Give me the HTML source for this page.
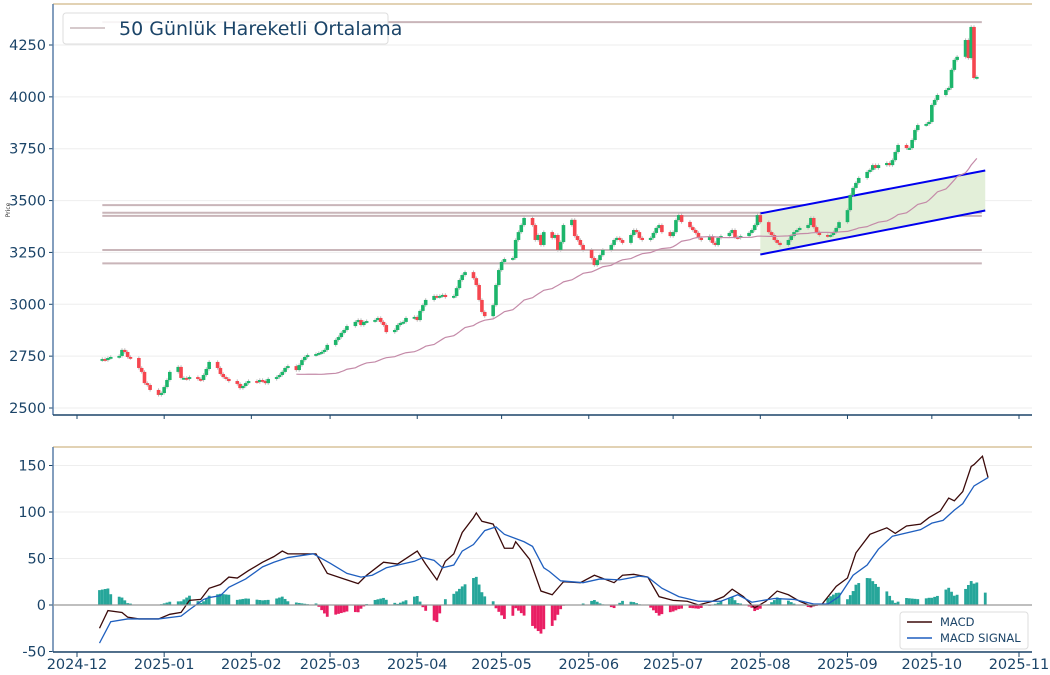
<!DOCTYPE html>
<html><head><meta charset="utf-8"><style>
body{margin:0;background:#fff;}
svg{display:block;font-family:"DejaVu Sans","Liberation Sans",sans-serif;}
</style></head><body>
<svg id="chart" width="1050" height="675" viewBox="0 0 1050 675" xmlns="http://www.w3.org/2000/svg">
<g id="grid"></g>
<g id="levels"></g>
<g id="channel"></g>
<g id="candles"></g>
<g id="ma"></g>
<g id="macd"></g>
<g id="axes"></g>
<g>
<rect x="63" y="13" width="325" height="31" rx="3" fill="#fff" fill-opacity="0.85" stroke="#ddd"/>
<line x1="70" y1="28" x2="105" y2="28" stroke="#c8b8bc" stroke-width="1.5"/>
<text x="119" y="35" font-size="19" fill="#1b4468">50 Günlük Hareketli Ortalama</text>
</g>
<text x="10" y="210" font-size="6" fill="#333" transform="rotate(-90 10 210)" text-anchor="middle">Price</text>
<g>
<rect x="900" y="612" width="128" height="37" rx="3" fill="#fff" stroke="#ddd"/>
<line x1="907" y1="622" x2="932" y2="622" stroke="#3b0a0a" stroke-width="1.5"/>
<text x="940" y="626" font-size="11.5" fill="#1b4468">MACD</text>
<line x1="907" y1="638" x2="932" y2="638" stroke="#1f5fbf" stroke-width="1.5"/>
<text x="940" y="642" font-size="11.5" fill="#1b4468">MACD SIGNAL</text>
</g>
</svg>
<script>
const closes = [
2736,2731,2741,2746,2751,2780,2770,2746,2741,2693,2674,2620,2611,2587,2563,2572,
2601,2635,2674,2698,2645,2645,2640,2649,2640,2635,2659,2688,2722,2693,2664,2649,2640,2630,2616,2596,2606,2620,2630,
2625,2635,2630,2620,2640,2649,2659,2674,2693,2702,2683,2707,2731,2746,2755,2760,2765,2770,2780,2804,
2828,2842,2862,2876,2895,2915,2924,2900,2915,2919,2924,2934,2915,2900,2866,2876,2900,2910,2915,2934,2939,
2924,2968,2996,3021,3040,3035,3040,3045,3035,3040,3078,3117,3141,3155,3126,3093,3021,2963,2943,2996,3093,3165,
3204,3218,3223,3310,3348,3382,3416,3382,3310,3334,3286,3348,3320,3334,3262,3300,3382,3407,3329,3310,3286,3262,
3223,3189,3213,3237,3262,3286,3310,3320,3310,3296,3334,3358,3348,3320,3310,3320,3344,3368,3382,3348,3329,
3348,3406,3430,3397,3372,3358,3344,3320,3310,3329,3296,3286,3320,3329,3344,3358,3324,3320,3329,3344,3358,3382,3430,
3396,3348,3334,3310,3296,3286,3310,3329,3348,3358,3368,3382,3416,3372,3348,3334,3329,3334,3348,3368,3396,
3454,3527,3561,3585,3609,3638,3648,3671,3657,3671,3681,3671,3695,3734,3768,3753,3753,3792,3840,3864,3869,3879,
3961,3985,4009,4033,4043,4130,4178,4193,4274,4187,4337,4091,4096];
const startDate = "2024-12-10";
// MACD: day offsets since 2024-12-01 and values
const macdDay = [8,11,16,18,22,29,33,37,40,44,47,51,54,57,61,66,70,73,75,80,85,89,95,100,103,109,114,121,124,128,131,134,137,141,142,144,148,152,155,156,161,165,169,173,179,184,191,194,198,203,207,212,217,221,226,230,233,237,241,245,249,253,257,261,265,270,274,277,282,288,291,295,300,303,307,310,312,315,318,319,322,324];
const macdVal = [-25,-6,-8,-13,-15,-15,-10,-8,5,6,18,22,30,29,37,46,52,58,55,55,55,34,28,23,32,46,44,58,44,27,47,55,78,94,99,90,87,61,61,68,49,15,11,25,24,32,24,32,33,30,9,5,4,0,4,9,17,9,-3,4,15,11,4,-1,1,20,29,56,76,83,77,85,87,94,101,115,112,122,149,151,160,137];
const sigDay = [8,12,18,29,37,40,45,47,51,54,60,66,70,75,84,90,96,101,105,110,120,123,127,130,134,137,141,145,149,152,159,162,166,168,172,180,186,193,200,203,208,214,221,229,235,240,248,255,262,267,271,276,281,285,290,300,304,308,312,315,319,324];
const sigVal = [-41,-18,-15,-15,-12,-5,6,8,10,19,28,41,46,51,55,45,34,30,32,40,47,51,48,40,43,58,65,80,84,76,68,63,40,36,26,24,28,27,31,30,18,9,4,4,11,3,7,6,1,1,9,32,43,60,74,81,88,91,102,109,128,137];
const priceTicks = [2500,2750,3000,3250,3500,3750,4000,4250];
const macdTicks = [-50,0,50,100,150];
const monthLabels = ["2024-12","2025-01","2025-02","2025-03","2025-04","2025-05","2025-06","2025-07","2025-08","2025-09","2025-10","2025-11"];
const levelPrices = [4360,3478,3441,3426,3262,3197];
const channelStart = "2025-08-01", channelEnd = "2025-10-20";
const channelUpper = [3438,3645];
const channelLower = [3240,3452];

const NS="http://www.w3.org/2000/svg";
function mk(tag,attrs,parent){const e=document.createElementNS(NS,tag);for(const k in attrs)e.setAttribute(k,attrs[k]);parent.appendChild(e);return e;}
const L=53,R=1032;
const d0=Date.UTC(2024,11,1), d1=Date.UTC(2025,10,1);
function xd(t){return 77+(t-d0)/(d1-d0)*(1019-77);}
function xday(d){return xd(d0+d*86400000);}
function yp(p){return 408-(p-2500)*(363/1750);}
function ym(v){return 605-v*0.93;}
function parse(s){const a=s.split("-").map(Number);return Date.UTC(a[0],a[1]-1,a[2]);}
const dates=[];let t=parse(startDate);
while(dates.length<closes.length){const wd=new Date(t).getUTCDay();if(wd!==0&&wd!==6)dates.push(t);t+=86400000;}
const grid=document.getElementById('grid'),axes=document.getElementById('axes');
priceTicks.forEach(p=>{
 const g=mk('line',{x1:L,x2:R,y1:yp(p),y2:yp(p),stroke:'#eee','stroke-width':1},grid);
 
 const tx=mk('text',{x:46,y:yp(p)+5,'font-size':14.5,fill:'#1b4468','text-anchor':'end'},axes);tx.textContent=p;
 
 mk('line',{x1:L-4,x2:L,y1:yp(p),y2:yp(p),stroke:'#1b4468'},axes);
});
macdTicks.forEach(v=>{
 if(v!==0)mk('line',{x1:L,x2:R,y1:ym(v),y2:ym(v),stroke:'#eee'},grid);
 const tx=mk('text',{x:46,y:ym(v)+5,'font-size':14.5,fill:'#1b4468','text-anchor':'end'},axes);tx.textContent=v;
 
 mk('line',{x1:L-4,x2:L,y1:ym(v),y2:ym(v),stroke:'#1b4468'},axes);
});
monthLabels.forEach(m=>{
 const x=xd(parse(m+"-01"));
 mk('line',{x1:x,x2:x,y1:652,y2:657,stroke:'#1b4468'},axes);
 mk('line',{x1:x,x2:x,y1:415,y2:419,stroke:'#1b4468'},axes);
 const tx=mk('text',{x:x,y:669,'font-size':14.5,fill:'#1b4468','text-anchor':'middle'},axes);tx.textContent=m;
 
});
mk('line',{x1:L,x2:R,y1:4,y2:4,stroke:'#d8c49c','stroke-width':1.5},axes);
mk('line',{x1:L,x2:L,y1:4,y2:415,stroke:'#5a7fa8','stroke-width':1.5},axes);
mk('line',{x1:L,x2:R,y1:415,y2:415,stroke:'#1b4468','stroke-width':1.5},axes);
mk('line',{x1:L,x2:R,y1:447,y2:447,stroke:'#d8c49c','stroke-width':1.5},axes);
mk('line',{x1:L,x2:L,y1:447,y2:652,stroke:'#5a7fa8','stroke-width':1.5},axes);
mk('line',{x1:L,x2:R,y1:652,y2:652,stroke:'#1b4468','stroke-width':1.5},axes);
mk('line',{x1:L,x2:R,y1:605,y2:605,stroke:'#999','stroke-width':1.2},axes);
const lv=document.getElementById('levels');
levelPrices.forEach(p=>{
 const l=mk('line',{x1:xd(dates[0]),x2:xd(dates[dates.length-1])+5,y1:yp(p),y2:yp(p),stroke:'#c9b5b9','stroke-width':2},lv);
 
});
const ch=document.getElementById('channel');
const cx0=xd(parse(channelStart)),cx1=xd(parse(channelEnd));
const poly=mk('polygon',{points:`${cx0},${yp(channelUpper[0])} ${cx1},${yp(channelUpper[1])} ${cx1},${yp(channelLower[1])} ${cx0},${yp(channelLower[0])}`,fill:'#e3efd9'},ch);

const u=mk('line',{x1:cx0,y1:yp(channelUpper[0]),x2:cx1,y2:yp(channelUpper[1]),stroke:'#0000ee','stroke-width':2},ch);

const lo=mk('line',{x1:cx0,y1:yp(channelLower[0]),x2:cx1,y2:yp(channelLower[1]),stroke:'#0000ee','stroke-width':2},ch);

const cg=document.getElementById('candles');
closes.forEach((c,i)=>{
 const o=i?closes[i-1]:c-5;const x=xd(dates[i]);
 const hi=Math.max(o,c)+8,lw=Math.min(o,c)-8;
 mk('line',{x1:x,x2:x,y1:yp(hi),y2:yp(lw),stroke:'#bbb','stroke-width':1},cg);
 const up=c>=o;
 const top=yp(Math.max(o,c)),h=Math.max(1.8,yp(Math.min(o,c))-top);
 const r=mk('rect',{x:x-1.8,y:top,width:3.6,height:h,fill:up?'#1db56b':'#f5464f'},cg);
 
});
let pts=[];
for(let i=49;i<closes.length;i++){let s=0;for(let j=i-49;j<=i;j++)s+=closes[j];pts.push(xd(dates[i])+','+yp(s/50));}
const ma=mk('polyline',{points:pts.join(' '),fill:'none',stroke:'#c48aa8','stroke-width':1.2},document.getElementById('ma'));

// MACD panel
function interp(days,vals,d){if(d<=days[0])return vals[0];for(let i=1;i<days.length;i++){if(d<=days[i]){const f=(d-days[i-1])/(days[i]-days[i-1]||1);return vals[i-1]+f*(vals[i]-vals[i-1]);}}return vals[vals.length-1];}
const mg=document.getElementById('macd');
const lastDay=Math.max(macdDay[macdDay.length-1],sigDay[sigDay.length-1]);
for(let d=macdDay[0];d<=lastDay;d++){
 const wd=new Date(d0+d*86400000).getUTCDay();if(wd===0||wd===6)continue;
 const h=interp(macdDay,macdVal,d)-interp(sigDay,sigVal,d);const x=xday(d);
 const b=mk('rect',{x:x-1.4,y:Math.min(ym(h),605),width:2.8,height:Math.abs(ym(h)-605),fill:h>=0?'#26a69a':'#e91e63'},mg);
 
}
const ml=mk('polyline',{points:macdVal.map((m,i)=>xday(macdDay[i])+','+ym(m)).join(' '),fill:'none',stroke:'#3b0a0a','stroke-width':1.3},mg);

const sl=mk('polyline',{points:sigVal.map((m,i)=>xday(sigDay[i])+','+ym(m)).join(' '),fill:'none',stroke:'#1f5fbf','stroke-width':1.3},mg);

</script>
</body></html>
